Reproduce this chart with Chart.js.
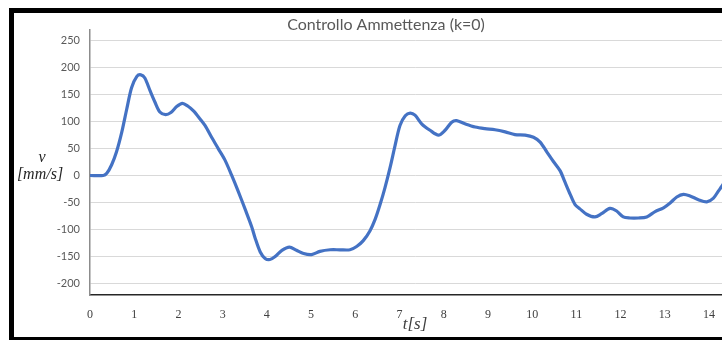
<!DOCTYPE html>
<html>
<head>
<meta charset="utf-8">
<script src="https://cdn.jsdelivr.net/npm/chart.js@4/dist/chart.umd.min.js"></script>
<style>
  html, body { margin: 0; padding: 0; background: #fff; overflow: hidden; }
  #frame {
    position: absolute; left: 9px; top: 8px;
    width: 744px; height: 324px;
    border: 5px solid #000;
  }
  #chart { display: block; }
</style>
</head>
<body>
<div id="frame"><canvas id="chart" width="744" height="324"></canvas></div>
<script>
// time [s] and velocity [mm/s]
const times = [
  0, 0.30, 0.38, 0.49, 0.60, 0.72, 0.83, 0.94, 1.06, 1.15, 1.24, 1.36, 1.47, 1.58, 1.71, 1.83, 1.96,
  2.09, 2.21, 2.34, 2.49, 2.60, 2.75, 2.90, 3.05, 3.20, 3.35, 3.51, 3.66, 3.73, 3.85, 3.96, 4.07,
  4.18, 4.34, 4.51, 4.67, 4.83, 5.01, 5.20, 5.43, 5.65, 5.88, 6.03, 6.18, 6.33, 6.45, 6.56, 6.67,
  6.79, 6.90, 7.01, 7.13, 7.24, 7.35, 7.50, 7.69, 7.88, 8.03, 8.18, 8.29, 8.48, 8.71, 8.93, 9.16,
  9.39, 9.61, 9.84, 10.03, 10.18, 10.33, 10.48, 10.63, 10.74, 10.86, 10.97, 11.08, 11.23, 11.42,
  11.57, 11.76, 11.91, 12.06, 12.21, 12.40, 12.59, 12.78, 12.97, 13.12, 13.27, 13.42, 13.57,
  13.76, 13.95, 14.10, 14.21, 14.29, 14.35
];
const velocity = [
  0, 0, 4, 20, 44, 81, 123, 163, 184, 187, 181, 157, 136, 118, 113, 117, 128,
  134, 129, 120, 105, 93, 71, 50, 29, 1, -29, -63, -96, -115, -142, -154, -156,
  -151, -139, -133, -139, -145, -147, -141, -138, -138, -138, -132, -121, -103, -81, -54, -23,
  16, 56, 93, 111, 116, 112, 96, 84, 75, 84, 99, 102, 96, 90, 87, 85,
  81, 76, 75, 71, 62, 44, 26, 9, -12, -35, -54, -62, -72, -77,
  -71, -61, -66, -77, -79, -79, -77, -67, -60, -51, -40, -35, -38,
  -45, -49, -42, -29, -20, -12
];
const xTicks = [0, 1, 2, 3, 4, 5, 6, 7, 8, 9, 10, 11, 12, 13, 14];
const yTicks = [-200, -150, -100, -50, 0, 50, 100, 150, 200, 250];

const TITLE = 'Controllo Ammettenza (k=0)';
const Y_LABEL = ['v', '[mm/s]'];
const X_LABEL = 't[s]';

// title and the horizontal two-line y label, drawn over the chart
const labelsPlugin = {
  id: 'labels',
  afterDraw(chart) {
    const ctx = chart.ctx;
    ctx.save();
    ctx.textAlign = 'center';
    ctx.textBaseline = 'middle';
    ctx.fillStyle = '#595959';
    ctx.font = '16px Lato, "Liberation Sans", sans-serif';
    ctx.fillText(TITLE, chart.width / 2, 12);
    ctx.fillStyle = '#262626';
    ctx.font = 'italic 16px "Liberation Serif", serif';
    ctx.fillText(Y_LABEL[0], 28, 145);
    ctx.fillText(Y_LABEL[1], 26, 162);
    ctx.restore();
  }
};

new Chart(document.getElementById('chart'), {
  type: 'line',
  data: {
    datasets: [{
      data: times.map((t, i) => ({ x: t, y: velocity[i] })),
      borderColor: '#4472C4',
      borderWidth: 3.2,
      pointRadius: 0,
      tension: 0.3,
      fill: false,
    }],
  },
  options: {
    responsive: false,
    animation: false,
    layout: { padding: { top: 13, right: 18, bottom: 0, left: 0 } },
    plugins: { legend: { display: false }, tooltip: { enabled: false } },
    scales: {
      x: {
        type: 'linear',
        min: 0,
        max: 14.7,
        afterBuildTicks: (scale) => { scale.ticks = xTicks.map(v => ({ value: v })); },
        afterFit: (scale) => { scale.height = 42; },
        grid: { display: false },
        border: { color: '#262626', width: 1.5 },
        ticks: {
          color: '#404040',
          font: { family: '"Liberation Serif", serif', size: 12 },
          padding: 5,
          maxRotation: 0,
          autoSkip: false,
        },
        title: {
          display: true,
          text: X_LABEL,
          color: '#404040',
          font: { family: '"Liberation Serif", serif', size: 17, style: 'italic' },
          padding: { top: 0, bottom: 2 },
        },
      },
      y: {
        min: -222,
        max: 271,
        afterBuildTicks: (scale) => { scale.ticks = yTicks.map(v => ({ value: v })); },
        afterFit: (scale) => { scale.width = 76; },
        grid: { color: '#d9d9d9', lineWidth: 1, drawTicks: false },
        border: { color: '#8c8c8c', width: 1.5 },
        ticks: {
          color: '#595959',
          font: { family: 'Lato, "Liberation Sans", sans-serif', size: 11 },
          padding: 10,
        },
      },
    },
  },
  plugins: [labelsPlugin],
});
</script>
</body>
</html>
